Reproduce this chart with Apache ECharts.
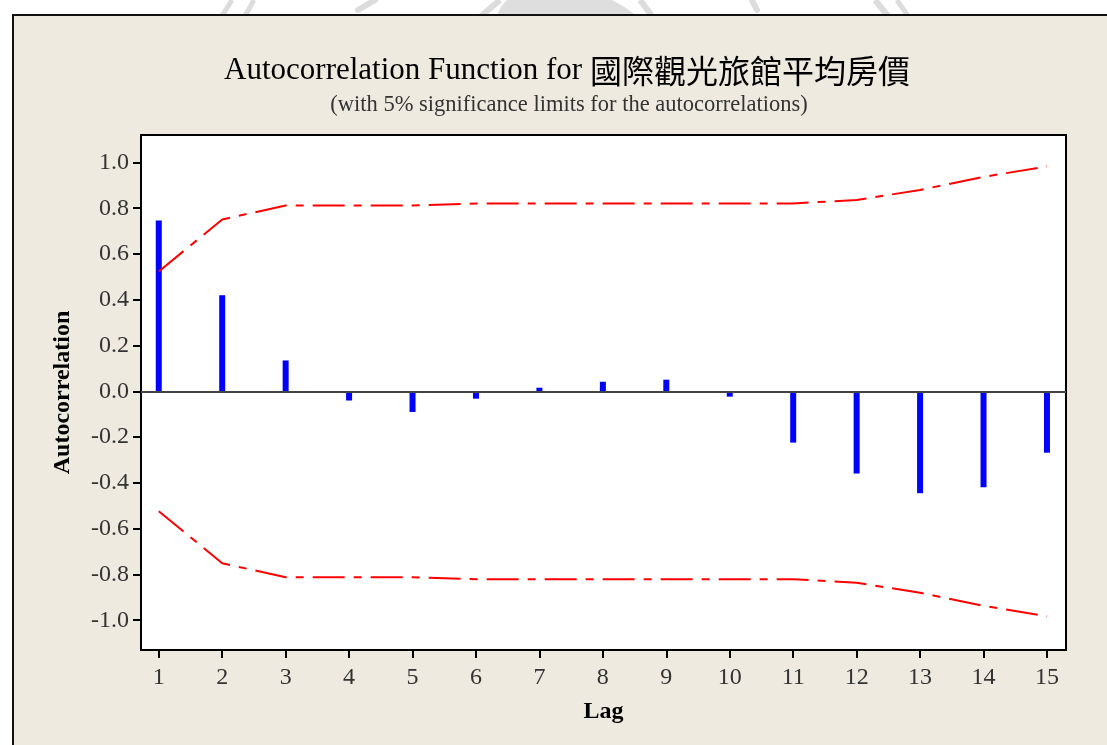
<!DOCTYPE html>
<html>
<head>
<meta charset="utf-8">
<title>Autocorrelation Function</title>
<script src="https://cdn.jsdelivr.net/npm/echarts@6/dist/echarts.min.js"></script>
<style>
  html, body { margin: 0; padding: 0; background: #ffffff; overflow: hidden; }
  #seal { position: absolute; left: 0; top: 0; width: 1107px; height: 30px; }
  #frame {
    position: absolute; left: 12px; top: 14px; width: 1200px; height: 800px;
    border: 2px solid #111; background: #EEEAE0; box-sizing: border-box;
  }
  #chart { position: absolute; left: 0; top: 0; width: 1107px; height: 745px; }
</style>
</head>
<body>
<!-- faint seal watermark peeking above the frame -->
<svg id="seal" width="1107" height="30">
  <g stroke="#dcdcdc" stroke-linecap="butt" fill="none">
    <line x1="232" y1="0" x2="222" y2="16" stroke-width="5"/>
    <line x1="254" y1="0" x2="245" y2="16" stroke-width="5"/>
    <line x1="375" y1="0" x2="358" y2="10" stroke-width="6" stroke-linecap="round"/>
    <line x1="500" y1="0" x2="481" y2="16" stroke-width="6"/>
    <line x1="640" y1="0" x2="652" y2="16" stroke-width="6"/>
    <line x1="752" y1="0" x2="757" y2="10" stroke-width="6" stroke-linecap="round"/>
    <line x1="875" y1="0" x2="888" y2="16" stroke-width="6"/>
    <line x1="897" y1="0" x2="908" y2="16" stroke-width="5"/>
  </g>
  <path d="M507 0 L612 0 Q628 8 636 16 L497 16 Q500 6 507 0 Z" fill="#dedede"/>
</svg>
<div id="frame"></div>
<div id="chart"></div>
<script>
// Lags and sample autocorrelations
const lags = [1, 2, 3, 4, 5, 6, 7, 8, 9, 10, 11, 12, 13, 14, 15];
const acf = [0.747, 0.420, 0.135, -0.040, -0.090, -0.032, 0.016, 0.042, 0.051, -0.023, -0.224, -0.359, -0.445, -0.419, -0.268];
// 5% significance limits
const upperLimit = [0.524, 0.751, 0.812, 0.812, 0.812, 0.821, 0.821, 0.821, 0.821, 0.821, 0.821, 0.836, 0.880, 0.937, 0.983];
const lowerLimit = [-0.524, -0.751, -0.812, -0.812, -0.812, -0.821, -0.821, -0.821, -0.821, -0.821, -0.821, -0.836, -0.880, -0.937, -0.983];
// Axis ticks
const yTicks = [-1.0, -0.8, -0.6, -0.4, -0.2, 0.0, 0.2, 0.4, 0.6, 0.8, 1.0];

const titleText = 'Autocorrelation Function for ';
const titleCJK = '國際觀光旅館平均房價';
const subtitleText = '(with 5% significance limits for the autocorrelations)';

const serif = '"Liberation Serif", "DejaVu Serif", serif';
const chart = echarts.init(document.getElementById('chart'), null, { renderer: 'canvas' });

const pair = (xs, ys) => xs.map((x, i) => [x, ys[i]]);
const limitStyle = { color: '#ff0000', width: 2, type: [32, 9, 8, 9] };

chart.setOption({
  backgroundColor: 'transparent',
  animation: false,
  title: [
    {
      text: '{a|' + titleText + '}{b|' + titleCJK + '}',
      left: 562, top: 50, textAlign: 'center',
      textStyle: {
        fontWeight: 'normal',
        rich: {
          a: { fontFamily: serif, fontSize: 31, fontWeight: 'normal', color: '#000' },
          b: { fontFamily: '"Noto Sans CJK TC", sans-serif', fontSize: 32, fontWeight: 'normal', color: '#000' }
        }
      }
    },
    {
      text: subtitleText,
      left: 564, top: 89, textAlign: 'center',
      textStyle: { fontFamily: serif, fontSize: 22.5, fontWeight: 'normal', color: '#333' }
    }
  ],
  grid: {
    left: 141, top: 135, right: 41, bottom: 95,
    show: true, backgroundColor: '#ffffff', borderColor: '#000', borderWidth: 2
  },
  xAxis: {
    type: 'value', min: 0.72, max: 15.3,
    name: 'Lag', nameLocation: 'middle', nameGap: 50,
    nameTextStyle: { fontFamily: serif, fontSize: 24, fontWeight: 'bold', color: '#000' },
    axisLine: { show: true, onZero: false, lineStyle: { color: '#000', width: 2 } },
    axisTick: { show: true, length: 8, lineStyle: { color: '#000', width: 2 }, customValues: lags },
    axisLabel: { fontFamily: serif, fontSize: 24, color: '#333', margin: 16, customValues: lags,
      formatter: v => String(Math.round(v)) },
    splitLine: { show: false }
  },
  yAxis: {
    type: 'value', min: -1.13, max: 1.12,
    name: 'Autocorrelation', nameLocation: 'middle', nameGap: 66, nameRotate: 90,
    nameTextStyle: { fontFamily: serif, fontSize: 24, fontWeight: 'bold', color: '#000' },
    axisLine: { show: true, onZero: false, lineStyle: { color: '#000', width: 2 } },
    axisTick: { show: true, length: 8, lineStyle: { color: '#000', width: 2 }, customValues: yTicks },
    axisLabel: { fontFamily: serif, fontSize: 24, color: '#333', margin: 12, customValues: yTicks,
      formatter: v => v.toFixed(1) },
    splitLine: { show: false }
  },
  series: [
    {
      name: 'ACF', type: 'bar', barWidth: 6,
      itemStyle: { color: '#0000ff' },
      data: pair(lags, acf),
      markLine: {
        silent: true, symbol: 'none', label: { show: false },
        lineStyle: { color: '#444', width: 2, type: 'solid' },
        data: [{ yAxis: 0 }]
      },
      z: 3
    },
    {
      name: 'Upper limit', type: 'line', symbol: 'none',
      lineStyle: limitStyle, data: pair(lags, upperLimit), z: 4
    },
    {
      name: 'Lower limit', type: 'line', symbol: 'none',
      lineStyle: limitStyle, data: pair(lags, lowerLimit), z: 4
    }
  ]
});
</script>
</body>
</html>
